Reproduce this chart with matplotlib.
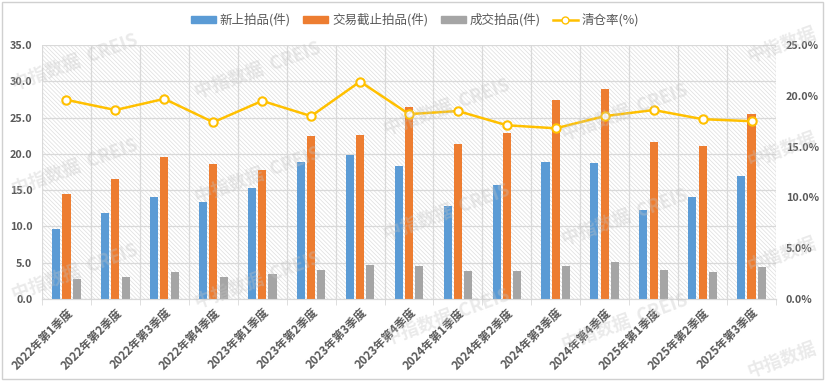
import matplotlib
matplotlib.use("Agg")
import matplotlib.pyplot as plt
from matplotlib.patches import Patch, Rectangle
from matplotlib.lines import Line2D
from matplotlib.ticker import FuncFormatter

plt.rcParams['font.family'] = ['Noto Sans CJK SC', 'DejaVu Sans']
plt.rcParams['hatch.linewidth'] = 0.5

quarters = ["2022年第1季度", "2022年第2季度", "2022年第3季度", "2022年第4季度",
            "2023年第1季度", "2023年第2季度", "2023年第3季度", "2023年第4季度",
            "2024年第1季度", "2024年第2季度", "2024年第3季度", "2024年第4季度",
            "2025年第1季度", "2025年第2季度", "2025年第3季度"]
new_listed = [9.6, 11.8, 14.0, 13.4, 15.3, 18.9, 19.8, 18.3, 12.8, 15.7, 18.9, 18.7, 12.3, 14.1, 16.9]
closing = [14.5, 16.5, 19.5, 18.6, 17.8, 22.4, 22.6, 26.4, 21.4, 22.9, 27.4, 29.0, 21.7, 21.1, 25.5]
sold = [2.8, 3.0, 3.7, 3.1, 3.4, 4.0, 4.7, 4.6, 3.9, 3.9, 4.5, 5.1, 4.0, 3.7, 4.4]
clear_rate = [19.6, 18.6, 19.7, 17.4, 19.5, 18.0, 21.4, 18.2, 18.5, 17.1, 16.8, 18.0, 18.6, 17.7, 17.5]

c_blue, c_orange, c_gray, c_yellow = "#5B9BD5", "#ED7D31", "#A5A5A5", "#FFC000"
txt = "#595959"
grid_c = "#d9d9d9"

W, H = 825, 381
fig = plt.figure(figsize=(W / 100, H / 100), dpi=100)
ax = fig.add_axes([42 / W, 1 - 299 / H, (776 - 42) / W, (299 - 45) / H])
ax2 = ax.twinx()

# fine hatched plot background
ax.patch.set_facecolor("white")
ax.patch.set_edgecolor("#dedede")
ax.patch.set_hatch("\\\\\\\\\\\\\\\\")

x = list(range(len(quarters)))
w = 0.165
off = 0.21
ax.bar([i - off for i in x], new_listed, w, color=c_blue, zorder=3)
ax.bar(x, closing, w, color=c_orange, zorder=3)
ax.bar([i + off for i in x], sold, w, color=c_gray, zorder=3)

ax2.plot(x, clear_rate, color=c_yellow, lw=1.8, marker="o", ms=6,
         mfc="white", mec=c_yellow, mew=1.5, zorder=4)

ax.set_xlim(-0.5, len(quarters) - 0.5)
ax.set_ylim(0, 35)
ax2.set_ylim(0, 25)
ax.set_yticks([0, 5, 10, 15, 20, 25, 30, 35])
ax2.set_yticks([0, 5, 10, 15, 20, 25])
ax.yaxis.set_major_formatter(FuncFormatter(lambda v, p: f"{v:.1f}"))
ax2.yaxis.set_major_formatter(FuncFormatter(lambda v, p: f"{v:.1f}%"))

ax.set_xticks(x)
ax.set_xticklabels(quarters, rotation=45, ha="right", rotation_mode="anchor")
ax.set_xticks([i - 0.5 for i in range(len(quarters) + 1)], minor=True)
ax.tick_params(axis="x", which="major", length=0, pad=5, labelsize=8.3, labelcolor=txt)
ax.tick_params(axis="x", which="minor", length=4, color=grid_c)
ax.tick_params(axis="y", length=0, labelsize=7.8, labelcolor=txt, pad=7)
ax2.tick_params(axis="y", length=0, labelsize=7.8, labelcolor=txt, pad=7)
for lab in ax.get_xticklabels() + ax.get_yticklabels() + ax2.get_yticklabels():
    lab.set_fontweight("bold")

ax.grid(axis="y", color=grid_c, lw=0.9, zorder=1)
ax.grid(axis="x", which="minor", color=grid_c, lw=0.9, zorder=1)
ax.set_axisbelow(True)
for a in (ax, ax2):
    for s in ("top", "left", "right"):
        a.spines[s].set_visible(False)
    a.spines["bottom"].set_color(grid_c)

handles = [Patch(color=c_blue), Patch(color=c_orange), Patch(color=c_gray),
           Line2D([0], [0], color=c_yellow, lw=1.8, marker="o", ms=5, mfc="white", mec=c_yellow)]
labels = ["新上拍品(件)", "交易截止拍品(件)", "成交拍品(件)", "清仓率(%)"]
fig.legend(handles, labels, loc="center", bbox_to_anchor=(415 / W, 1 - 20 / H), ncol=4,
           frameon=False, fontsize=9, handlelength=2.0, handleheight=0.5,
           columnspacing=1.0, handletextpad=0.3, labelcolor=txt)

# watermark tiles (pixel centres); the right-hand column only shows the Chinese part
wm_cols = [(75, 0, "中指数据  CREIS"), (258, 8, "中指数据  CREIS"), (447, 45, "中指数据  CREIS"),
           (625, 50, "中指数据  CREIS"), (782, -17, "中指数据")]
for cx, dy, s in wm_cols:
    for k in range(0, 4):
        cy = 62 + dy + 105 * k
        if cy > H - 15:
            continue
        fig.text(cx / W, 1 - cy / H, s, rotation=20,
                 fontsize=13, fontweight="bold", color="#c4c4c4", alpha=0.35,
                 ha="center", va="center", zorder=10)

fig.patches.append(Rectangle((0.003, 0.005), 0.994, 0.99, transform=fig.transFigure,
                             fill=False, edgecolor="#d0d0d0", lw=1))

fig.savefig("out.png", dpi=100)
